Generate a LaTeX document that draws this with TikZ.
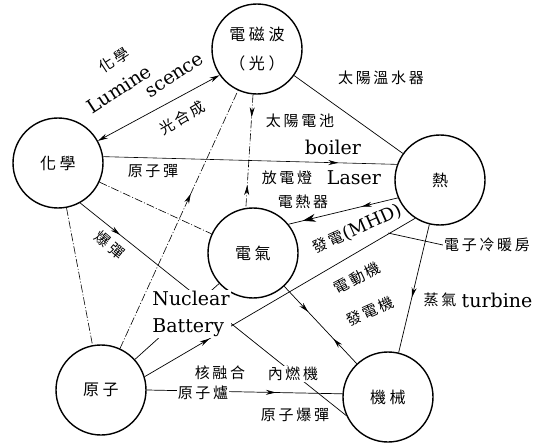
\documentclass[tikz,border=0pt]{standalone}
\usepackage{fontspec}
\usetikzlibrary{arrows.meta,decorations.markings}
\newfontfamily\cjk{Noto Sans CJK TC}[LetterSpace=18]
\newfontfamily\cjkn{Noto Sans CJK TC}[LetterSpace=22]
\newfontfamily\latf{DejaVu Serif}
\tikzset{
  circ/.style={circle, draw, line width=1.4pt, minimum size=90pt, inner sep=0pt,
    font=\cjkn\fontsize{16}{20}\selectfont},
  lab/.style={inner sep=1pt, font=\cjk\fontsize{15}{18}\selectfont},
  lat/.style={inner sep=1pt, font=\latf\fontsize{19}{27}\selectfont},
  ln/.style={line width=0.7pt},
  dd/.style={line width=0.6pt, dash pattern=on 8pt off 2pt on 1pt off 2pt},
  tipA/.tip={Stealth[length=10pt,width=5pt]},
  fwdm/.style={postaction={decorate, decoration={markings,
      mark=at position #1 with {\arrow{Stealth[length=10pt,width=5pt]}}}}},
  backm/.style={postaction={decorate, decoration={markings,
      mark=at position #1 with {\arrowreversed{Stealth[length=10pt,width=5pt]}}}}},
  backbig/.style={postaction={decorate, decoration={markings,
      mark=at position #1 with {\arrowreversed{Stealth[length=13pt,width=8pt]}}}}},
}
\begin{document}
\begin{tikzpicture}[x=1pt,y=1pt]
\useasboundingbox (0,0) rectangle (555,-444);
% nodes
\node[circ, align=center] (em) at (257,-49) {電磁波\\[9pt]（光）};
\node[circ] (chem) at (58,-163) {化學};
\node[circ] (heat) at (440,-180) {熱};
\node[circ] (elec) at (253,-253) {電氣};
\node[circ] (atom) at (101,-390) {原子};
\node[circ] (mech) at (388,-397) {機械};
% connectors
\draw[ln, tipA-tipA] (chem.29) -- (em.215);
\draw[ln] (em) -- (heat);
\draw[dd, fwdm=0.2, backm=0.8] (em.265) -- (elec.99);
\draw[line width=0.6pt, fwdm=0.8] (chem.8) -- (heat.160);
\draw[dd] (chem) -- (elec);
\draw[ln, fwdm=0.15, fwdm=0.8] (chem.-61) -- (mech.204);
\draw[dd] (chem) -- (atom);
\draw[dd, fwdm=0.6] (atom) -- (em);
\draw[ln, fwdm=0.24] (atom.17) -- (heat.237);
\draw[ln] (atom) -- (elec);
\draw[ln, fwdm=0.66] (atom.0) -- (mech.176);
\draw[ln, backm=0.67, backbig=0.13] (elec.39) -- (heat.203);
\draw[ln, fwdm=0.33, backm=0.68] (elec) -- (mech);
\draw[ln, fwdm=0.57] (heat) -- (mech);
% labels
\node[lab, rotate=33] (l1) at (114,-60) {化學};
\node[lat, rotate=33] (l2) at (119,-89) {Lumine};
\node[lat, rotate=33] (l3) at (175,-76) {scence};
\node[lab, rotate=30] (l4) at (182,-118) {光合成};
\node[lab] (l5) at (381,-78) {太陽溫水器};
\node[lab] (l6) at (300,-121) {太陽電池};
\node[lat] (l7) at (333,-147) {boiler};
\node[lab] (l8) at (287,-178) {放電燈};
\node[lat] (l9) at (354,-178) {Laser};
\node[lab] (l10) at (303,-202) {電熱器};
\node[inner sep=1pt, rotate=24] (l11) at (357,-229) {{\cjk\fontsize{15}{18}\selectfont 發電}{\latf\fontsize{18}{22}\selectfont(MHD)}};
\node[lab] (cool) at (487,-245) {電子冷暖房};
\coordinate (ldr) at (388,-233);
\draw[ln] (ldr) -- (cool.west);
\node[lab, rotate=28] (l12) at (357,-278) {電動機};
\node[lab, rotate=24] (l13) at (370,-311) {發電機};
\node[lab] (l14) at (440,-300) {蒸氣};
\node[lat] (l15) at (497,-300) {turbine};
\node[lab] (l16) at (153,-171) {原子彈};
\node[lab, rotate=-40] (l17) at (110,-245) {爆彈};
\node[lat, fill=white, align=left] (l18) at (191,-314) {Nuclear\\Battery};
\node[lab] (l19) at (220,-373) {核融合};
\node[lab, fill=white] (l20) at (203,-393) {原子爐};
\node[lab, fill=white] (l21) at (293,-374) {內燃機};
\node[lab] (l22) at (295,-415) {原子爆彈};
\end{tikzpicture}
\end{document}
